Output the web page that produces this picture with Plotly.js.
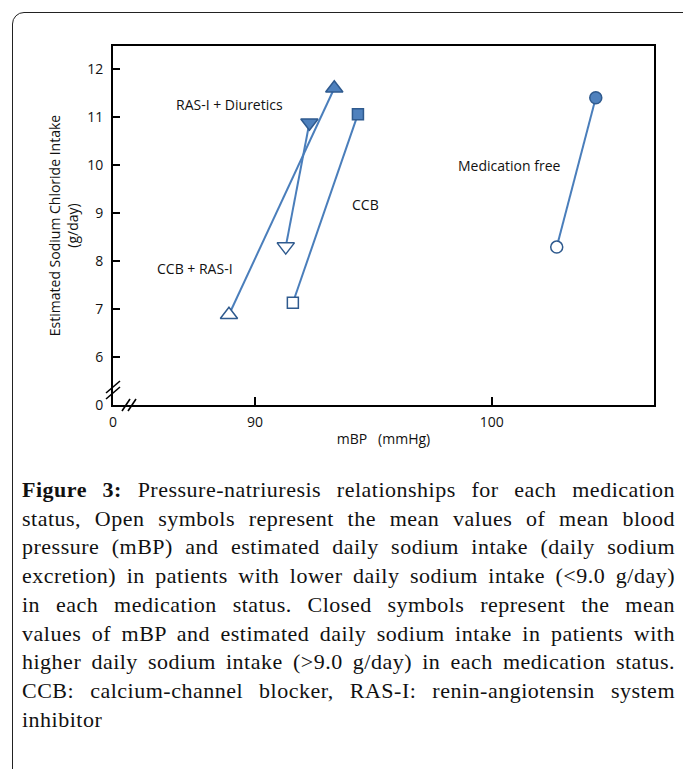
<!DOCTYPE html>
<html>
<head>
<meta charset="utf-8">
<script src="https://cdn.plot.ly/plotly-3.0.1.min.js"></script>
<style>
  html, body { margin: 0; padding: 0; background: #fff; width: 683px; height: 769px; overflow: hidden; }
  #frame { position: absolute; left: 12px; top: 12px; width: 700px; height: 800px; border: 1.3px solid #222; border-radius: 12px; }
  #chart { position: absolute; left: 0; top: 0; width: 683px; height: 460px; }
  #caption { position: absolute; left: 22px; top: 476px; width: 653px; font-family: "Liberation Serif", "DejaVu Serif", serif; font-size: 22px; letter-spacing: 0.5px; line-height: 28.7px; color: #111; }
  #caption .ln { text-align: justify; text-align-last: justify; white-space: nowrap; }
  #caption .ln.last { text-align-last: left; }
  #caption b { font-weight: bold; }
</style>
</head>
<body>
<div id="frame"></div>
<div id="chart"></div>
<div id="caption">
<div class="ln"><b>Figure 3:</b> Pressure-natriuresis relationships for each medication</div>
<div class="ln">status, Open symbols represent the mean values of mean blood</div>
<div class="ln">pressure (mBP) and estimated daily sodium intake (daily sodium</div>
<div class="ln">excretion) in patients with lower daily sodium intake (&lt;9.0 g/day)</div>
<div class="ln">in each medication status. Closed symbols represent the mean</div>
<div class="ln">values of mBP and estimated daily sodium intake in patients with</div>
<div class="ln">higher daily sodium intake (&gt;9.0 g/day) in each medication status.</div>
<div class="ln">CCB: calcium-channel blocker, RAS-I: renin-angiotensin system</div>
<div class="ln last">inhibitor</div>
</div>
<script>
// Data
const groups = ['RAS-I + Diuretics', 'CCB + RAS-I', 'CCB', 'Medication free'];
const lowMBP  = [91.3, 88.9, 91.6, 102.75];
const lowNaCl = [8.3, 6.88, 7.13, 8.29];
const highMBP  = [92.3, 93.35, 94.35, 104.4];
const highNaCl = [10.88, 11.6, 11.06, 11.4];
const symbolsLow  = ['triangle-down', 'triangle-up', 'square', 'circle'];
const symbolsHigh = ['triangle-down', 'triangle-up', 'square', 'circle'];
const markerSizes = [15, 15, 11, 12];
// Label anchors (data coords)
const labelX = [88.94, 87.46, 94.66, 100.76];
const labelY = [11.27, 7.85, 9.17, 9.98];
// Axis ticks (broken axes: lowest tick shows 0)
const xTickVals = [84, 90, 100];
const xTickText = ['0', '90', '100'];
const yTickVals = [5, 6, 7, 8, 9, 10, 11, 12];
const yTickText = ['0', '6', '7', '8', '9', '10', '11', '12'];

const lineColor = '#4A7EBB';
const fillColor = '#4F81BD';
const edgeColor = '#2F5A8E';
const fontFam = 'Open Sans, Noto Sans, sans-serif';
const fs = 14;

const traces = groups.map((g, i) => ({
  type: 'scatter',
  mode: 'lines+markers',
  name: g,
  x: [lowMBP[i], highMBP[i]],
  y: [lowNaCl[i], highNaCl[i]],
  line: { color: lineColor, width: 2 },
  marker: {
    symbol: [symbolsLow[i], symbolsHigh[i]],
    size: markerSizes[i],
    color: ['#ffffff', fillColor],
    line: { color: edgeColor, width: 1.5 }
  },
  showlegend: false,
  hoverinfo: 'x+y'
}));

const annotations = groups.map((g, i) => ({
  x: labelX[i], y: labelY[i], xref: 'x', yref: 'y',
  text: g, showarrow: false,
  font: { family: fontFam, size: fs, color: '#111' }
}));

const brk = (x0, y0, x1, y1) => ({ type: 'line', xref: 'paper', yref: 'paper', x0, y0, x1, y1, line: { color: '#000', width: 1.6 } });
// paper coords: plot area 541 x 359 px
const W = 541, H = 359;
const shapes = [
  // y-axis break
  brk(-7 / W, (H - 347) / H, 7 / W, (H - 335) / H),
  brk(-7 / W, (H - 353) / H, 7 / W, (H - 341) / H),
  // x-axis break
  brk(9 / W, -6 / H, 17 / W, 6 / H),
  brk(15 / W, -6 / H, 23 / W, 6 / H)
];

const layout = {
  width: 683, height: 460,
  margin: { l: 113, r: 29, t: 46, b: 55 },
  paper_bgcolor: 'rgba(0,0,0,0)',
  plot_bgcolor: '#fff',
  font: { family: fontFam, size: fs, color: '#111' },
  xaxis: {
    range: [84, 106.86],
    tickmode: 'array', tickvals: xTickVals, ticktext: xTickText,
    ticks: 'inside', ticklen: 8, tickwidth: 2, tickcolor: '#000',
    ticklabelstandoff: 3,
    showline: true, linecolor: '#000', linewidth: 2, mirror: true,
    showgrid: false, zeroline: false,
    tickfont: { family: fontFam, size: fs, color: '#111' },
    title: { text: 'mBP   (mmHg)', standoff: 4, font: { family: fontFam, size: fs, color: '#111' } }
  },
  yaxis: {
    range: [5, 12.48],
    tickmode: 'array', tickvals: yTickVals, ticktext: yTickText,
    ticks: 'inside', ticklen: 7, tickwidth: 2, tickcolor: '#000',
    ticklabelstandoff: 5,
    showline: true, linecolor: '#000', linewidth: 2, mirror: true,
    showgrid: false, zeroline: false,
    tickfont: { family: fontFam, size: fs, color: '#111' },
    title: { text: 'Estimated Sodium Chloride Intake<br>(g/day)', standoff: 5, font: { family: fontFam, size: fs, color: '#111' } }
  },
  annotations, shapes
};

Plotly.newPlot('chart', traces, layout, { displayModeBar: false, staticPlot: true });
</script>
</body>
</html>
